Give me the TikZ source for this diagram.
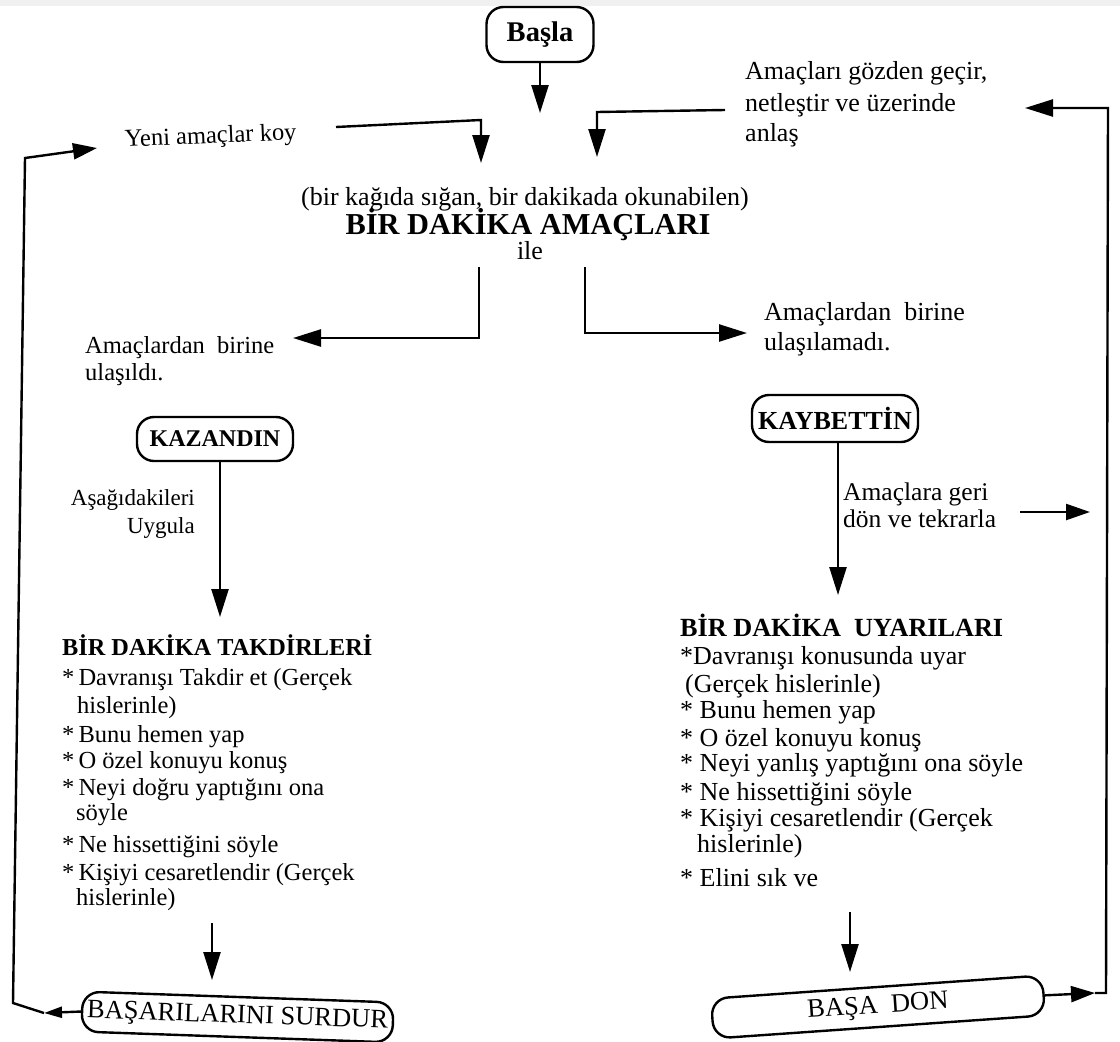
\documentclass[tikz,border=0pt]{standalone}
\usepackage{fontspec}
\setmainfont{Liberation Serif}
\usetikzlibrary{arrows.meta}
\newcommand{\myr}[1]{\fontsize{#1}{#1}\selectfont}
\newcommand{\myb}[1]{\fontsize{#1}{#1}\selectfont\bfseries}
\begin{document}
\begin{tikzpicture}[x=1pt,y=-1pt,
  lw/.style={line width=2.4pt},
  arr/.style={lw, -{Triangle[length=28pt,width=17pt]}},
  marr/.style={lw, -{Triangle[length=24pt,width=16pt]}},
  sarr/.style={lw, -{Triangle[length=18pt,width=11pt]}},
  rbox/.style={draw, line width=2.4pt, rounded corners=17pt, inner sep=0pt},
  t/.style={anchor=base west, inner sep=0pt, font=\myr{24.5}},
  tb/.style={t, font=\myb{24.3}},
  tr/.style={t, font=\myr{26}},
]
\useasboundingbox (0,0) rectangle (1120,1042);
\fill[gray!12] (0,0) rectangle (1120,6);

% ---- boxes
\node[rbox, minimum width=107pt, minimum height=55pt, font=\myb{28.5}] (basla) at (540,34.5) {Başla};
\node[rbox, minimum width=156pt, minimum height=44pt, font=\myb{24}] (kaz) at (215,439) {KAZANDIN};
\node[rbox, minimum width=166pt, minimum height=47pt, font=\myb{26}] (kay) at (835,418.5) {KAYBETTİN};
\node[rbox, rotate=-2, minimum width=311pt, minimum height=40pt, font=\myr{26.5}] (bsur) at (237.5,1017) {BAŞARILARINI SURDUR};
\node[rbox, rotate=4, minimum width=332pt, minimum height=40pt, font=\myr{26.5}] (bdon) at (878,1007) {BAŞA\ \ DON};

% ---- top texts
\node[t, rotate=2.5] (yeni) at (125,147) {Yeni amaçlar koy};
\node[t, font=\myr{26}] (g1t) at (745,79) {Amaçları gözden geçir,};
\node[t, font=\myr{26}] (g2t) at (745,111) {netleştir ve üzerinde};
\node[t, font=\myr{26}] (g3t) at (745,141) {anlaş};

\node[anchor=base, inner sep=0pt, font=\myr{26}] (bir) at (525,205) {(bir kağıda sığan, bir dakikada okunabilen)};
\node[anchor=base, inner sep=0pt, font=\myb{30.4}] (amac) at (528,234) {BİR DAKİKA AMAÇLARI};
\node[anchor=base, inner sep=0pt, font=\myr{26}] (ile) at (530,259) {ile};

\node[t] (ul1) at (85,353) {Amaçlardan\ \ birine};
\node[t] (ul2) at (85,380) {ulaşıldı.};
\node[t, font=\myr{26}] (un1) at (764,320) {Amaçlardan\ \ birine};
\node[t, font=\myr{26}] (un2) at (764,350) {ulaşılamadı.};

\node[anchor=base east, inner sep=0pt, font=\myr{23}] (asa1) at (195,505) {Aşağıdakileri};
\node[anchor=base east, inner sep=0pt, font=\myr{23}] (asa2) at (195,533) {Uygula};

\node[t, font=\myr{25.5}] (geri1) at (843,500) {Amaçlara geri};
\node[t, font=\myr{25.5}] (geri2) at (843,527) {dön ve tekrarla};

% ---- left list
\node[tb] (tk) at (62,655) {BİR DAKİKA TAKDİRLERİ};
\node[t] (tk1) at (62,685) {*\,Davranışı Takdir et (Gerçek};
\node[t] (tk1b) at (77,713) {hislerinle)};
\node[t] (tk2) at (62,742) {*\,Bunu hemen yap};
\node[t] (tk3) at (62,768) {*\,O özel konuyu konuş};
\node[t] (tk4) at (62,795) {*\,Neyi doğru yaptığını ona};
\node[t] (tk4b) at (76,820) {söyle};
\node[t] (tk5) at (62,852) {*\,Ne hissettiğini söyle};
\node[t] (tk6) at (62,880) {*\,Kişiyi cesaretlendir (Gerçek};
\node[t] (tk6b) at (76,905) {hislerinle)};

% ---- right list
\node[tb, font=\myb{26.2}] (uy) at (680,636) {BİR DAKİKA\ \ UYARILARI};
\node[tr] (uy1) at (680,664) {*Davranışı konusunda uyar};
\node[tr] (uy1b) at (685,692) {(Gerçek hislerinle)};
\node[tr] (uy2) at (680,718) {*\ Bunu hemen yap};
\node[tr] (uy3) at (680,746) {*\ O özel konuyu konuş};
\node[tr] (uy4) at (680,771) {*\ Neyi yanlış yaptığını ona söyle};
\node[tr] (uy5) at (680,800) {*\ Ne hissettiğini söyle};
\node[tr] (uy6) at (680,826) {*\ Kişiyi cesaretlendir (Gerçek};
\node[tr] (uy6b) at (697,852) {hislerinle)};
\node[tr] (uy7) at (680,886) {*\ Elini sık ve};

% ---- coordinates
\coordinate (bstip) at (540,113);
\coordinate (y1) at (336,127);
\coordinate (y2) at (481,120);
\coordinate (y3) at (481,163);
\coordinate (gz1) at (725,110);
\coordinate (gz2) at (597,112);
\coordinate (gz3) at (597,157);
\coordinate (l1) at (479,267);
\coordinate (l2) at (479,338);
\coordinate (l3) at (293,338);
\coordinate (r1) at (585,267);
\coordinate (r2) at (585,333);
\coordinate (r3) at (747,333);
\coordinate (kt) at (220,617);
\coordinate (kyt) at (838,595);
\coordinate (ls1) at (212,923);
\coordinate (ls2) at (212,980);
\coordinate (rs1) at (850,912);
\coordinate (rs2) at (850,972);
\coordinate (bl1) at (44,1013);
\coordinate (bl2) at (13,1003);
\coordinate (bl3) at (25,158);
\coordinate (bl4) at (97,148);
\coordinate (br1) at (1095,993);
\coordinate (br2) at (1106,993);
\coordinate (br3) at (1108,108);
\coordinate (br4) at (1025,108);
\coordinate (ga1) at (1020,512);
\coordinate (ga2) at (1090,512);

% ---- connectors
\draw[arr] (basla.south) -- (bstip);
\draw[arr] (y1) -- (y2) -- (y3);
\draw[arr] (gz1) -- (gz2) -- (gz3);
\draw[arr] (l1) -- (l2) -- (l3);
\draw[arr] (r1) -- (r2) -- (r3);
\draw[arr] (kaz.south -| kt) -- (kt);
\draw[arr] (kay.south -| kyt) -- (kyt);
\draw[arr] (ls1) -- (ls2);
\draw[arr] (rs1) -- (rs2);
\draw[sarr] (bsur.west) -- (bl1);
\draw[marr] (bl1) -- (bl2) -- (bl3) -- (bl4);
\draw[marr] (bdon.east) -- (br1);
\draw[arr] (br1) -- (br2) -- (br3) -- (br4);
\draw[marr] (ga1) -- (ga2);
\end{tikzpicture}
\end{document}
